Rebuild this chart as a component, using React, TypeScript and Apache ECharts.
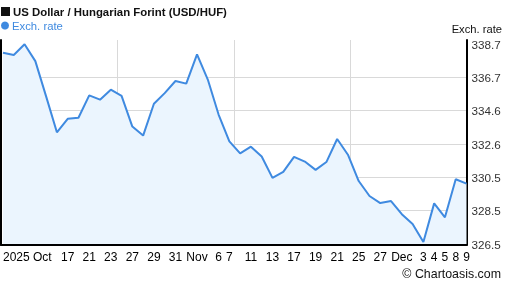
import React, { useEffect, useRef } from 'react';
import * as echarts from 'echarts';

const dates = [
  '2025-10-09', '2025-10-10', '2025-10-13', '2025-10-14', '2025-10-15', '2025-10-16', '2025-10-17',
  '2025-10-20', '2025-10-21', '2025-10-22', '2025-10-23', '2025-10-24', '2025-10-27', '2025-10-28',
  '2025-10-29', '2025-10-30', '2025-10-31', '2025-11-03', '2025-11-04', '2025-11-05', '2025-11-06',
  '2025-11-07', '2025-11-10', '2025-11-11', '2025-11-12', '2025-11-13', '2025-11-14', '2025-11-17',
  '2025-11-18', '2025-11-19', '2025-11-20', '2025-11-21', '2025-11-24', '2025-11-25', '2025-11-26',
  '2025-11-27', '2025-11-28', '2025-12-01', '2025-12-02', '2025-12-03', '2025-12-04', '2025-12-05',
  '2025-12-08', '2025-12-09',
];

const rates = [
  338.17, 338.03, 338.69, 337.66, 335.5, 333.3, 334.13,
  334.19, 335.56, 335.3, 335.91, 335.53, 333.65, 333.1,
  335.05, 335.7, 336.44, 336.28, 338.07, 336.53, 334.39,
  332.75, 332.01, 332.42, 331.82, 330.51, 330.88, 331.8,
  331.51, 331.0, 331.48, 332.89, 331.93, 330.32, 329.4,
  328.97, 329.09, 328.29, 327.69, 326.58, 328.95, 328.1,
  330.43, 330.16,
];

const xLabels = [
  '2025 Oct', '', '', '', '', '', '17',
  '', '21', '', '23', '', '27', '',
  '29', '', '31', '', 'Nov', '', '6',
  '7', '', '11', '', '13', '', '17',
  '', '19', '', '21', '', '25', '',
  '27', '', 'Dec', '', '3', '4', '5',
  '8', '9',
];

const yLabels = ['326.5', '328.5', '330.5', '332.6', '334.6', '336.7', '338.7'];
const yMin = 326.464;
const yInterval = 2.0404;
const yMax = yMin + yInterval * 6;

const title = 'US Dollar / Hungarian Forint (USD/HUF)';
const seriesName = 'Exch. rate';
const axisName = 'Exch. rate';
const credit = '\u00A9 Chartoasis.com';

const LINE = '#3f8ae0';
const FILL = '#ebf5fe';
const GRID = '#d9d9d9';
const FONT = '"Liberation Sans", Arial, sans-serif';

export default function App() {
  const ref = useRef<HTMLDivElement>(null);

  useEffect(() => {
    if (!ref.current) return;
    const chart = echarts.init(ref.current, undefined, { renderer: 'svg' });
    chart.setOption({
      animation: false,
      textStyle: { fontFamily: FONT },
      grid: [
        { left: 1, right: 40.5, top: 44, bottom: 44, containLabel: false },
        { left: 1, right: 40.5, top: 40, bottom: 43, containLabel: false },
      ],
      xAxis: [
        {
          type: 'category',
          gridIndex: 0,
          data: dates,
          boundaryGap: false,
          axisLine: { show: false },
          axisTick: { show: false },
          splitLine: { show: false },
          axisLabel: {
            interval: 0,
            color: '#000',
            fontSize: 12,
            fontFamily: FONT,
            margin: 7,
            alignMinLabel: 'left',
            formatter: (_v: string, i: number) => xLabels[i] ?? '',
          },
        },
        {
          type: 'value',
          gridIndex: 1,
          min: 0,
          max: 4,
          interval: 1,
          position: 'bottom',
          axisLine: { show: true, onZero: false, lineStyle: { color: '#000', width: 2 } },
          axisTick: { show: false },
          axisLabel: { show: false },
          splitLine: { show: true, showMinLine: false, showMaxLine: false, lineStyle: { color: GRID, width: 1 } },
        },
      ],
      yAxis: [
        {
          type: 'value',
          gridIndex: 0,
          position: 'right',
          min: yMin,
          max: yMax,
          interval: yInterval,
          axisLine: { show: false },
          axisTick: { show: false },
          splitLine: { show: true, showMinLine: false, showMaxLine: false, lineStyle: { color: GRID, width: 1 } },
          axisLabel: {
            color: '#333',
            fontSize: 11.7,
            fontFamily: FONT,
            margin: 5,
            showMinLabel: true,
            showMaxLabel: true,
            formatter: (v: number) => {
              const k = Math.round((v - yMin) / yInterval);
              if (k < 0 || k >= yLabels.length) return '';
              if (Math.abs(v - (yMin + k * yInterval)) > 1e-3) return '';
              return yLabels[k];
            },
          },
        },
        {
          type: 'value',
          gridIndex: 1,
          position: 'left',
          min: 0,
          max: 1,
          axisLine: { show: true, onZero: false, lineStyle: { color: '#000', width: 2 } },
          axisTick: { show: false },
          axisLabel: { show: false },
          splitLine: { show: false },
        },
        {
          type: 'value',
          gridIndex: 1,
          position: 'right',
          min: 0,
          max: 1,
          axisLine: { show: true, onZero: false, lineStyle: { color: '#000', width: 2 } },
          axisTick: { show: false },
          axisLabel: { show: false },
          splitLine: { show: false },
        },
      ],
      series: [
        {
          name: seriesName,
          type: 'line',
          xAxisIndex: 0,
          yAxisIndex: 0,
          data: rates,
          showSymbol: false,
          symbol: 'none',
          lineStyle: { color: LINE, width: 2 },
          areaStyle: { color: FILL, opacity: 1 },
          z: 3,
        },
      ],
      graphic: [
        { type: 'rect', shape: { x: 1, y: 7, width: 9, height: 9 }, style: { fill: '#111' } },
        {
          type: 'text',
          x: 13,
          y: 11.5,
          style: { text: title, fill: '#111', font: `bold 11.4px ${FONT}`, textVerticalAlign: 'middle' },
        },
        { type: 'circle', shape: { cx: 5, cy: 25.5, r: 4 }, style: { fill: LINE } },
        {
          type: 'text',
          x: 12,
          y: 25.5,
          style: { text: seriesName, fill: LINE, font: `11.3px ${FONT}`, textVerticalAlign: 'middle' },
        },
        {
          type: 'text',
          x: 502,
          y: 28.5,
          style: { text: axisName, fill: '#111', font: `11.2px ${FONT}`, textAlign: 'right', textVerticalAlign: 'middle' },
        },
        {
          type: 'text',
          x: 501,
          y: 274,
          style: { text: credit, fill: '#111', font: `12.4px ${FONT}`, textAlign: 'right', textVerticalAlign: 'middle' },
        },
      ],
    });
    return () => chart.dispose();
  }, []);

  return (
    <div
      ref={ref}
      style={{ position: 'fixed', left: 0, top: 0, width: 507, height: 288 }}
    />
  );
}
